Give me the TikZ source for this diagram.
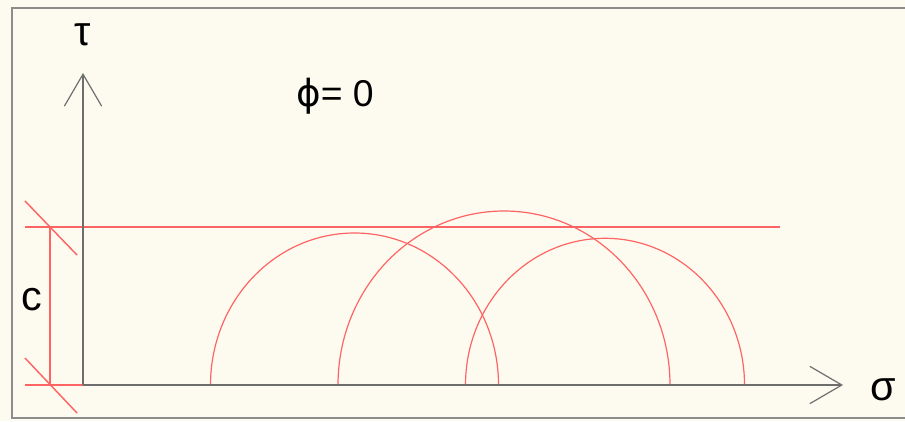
\documentclass[tikz,border=0pt]{standalone}
\usepackage{xcolor}
\usepackage{fontspec}
\setmainfont{Liberation Sans}
\newfontfamily\symfont{DejaVu Sans}
\usepackage{tikz}
\usetikzlibrary{arrows.meta}
\definecolor{paper}{RGB}{253,251,240}
\definecolor{framegray}{RGB}{140,140,140}
\definecolor{axisgray}{RGB}{110,110,110}
\definecolor{envred}{RGB}{255,100,100}
\tikzstyle{axis} = [draw=axisgray, line width=1.6pt,
                    -{Straight Barb[length=24pt,width=28pt,line width=0.9pt]}]
\tikzstyle{envelope} = [draw=envred, line width=1.1pt]
\tikzstyle{mohrarc} = [draw=envred, line width=0.9pt]
\tikzstyle{lbl} = [inner sep=0pt, font=\fontsize{28}{32}\selectfont]
\tikzstyle{biglbl} = [inner sep=0pt, font=\fontsize{31}{34}\selectfont]

\begin{document}
\begin{tikzpicture}[x=0.75pt, y=-0.75pt]
    \useasboundingbox (0,0) rectangle (905,421);
    \fill [paper] (0,0) rectangle (905,421);
    % frame
    \draw [framegray, line width=1.5pt] (915,8) -- (12,8) -- (12,418) -- (915,418);

    \coordinate (O) at (83,385);
    \coordinate (taupeak) at (83,73);
    \coordinate (sigpeak) at (843,385);
    \coordinate (ctop) at (50,227);
    \coordinate (cbot) at (50,385);
    \coordinate (envend) at (780,227);

    % cohesion limit and dimension
    \draw [envelope] (25,227) -- (envend);
    \draw [envelope] (25,385) -- (O);
    \draw [envelope] (ctop) -- (cbot);
    \draw [envelope] ([shift={(-25,-26)}]ctop) -- ([shift={(27,28)}]ctop);
    \draw [envelope] ([shift={(-25,-27)}]cbot) -- ([shift={(27,28)}]cbot);

    % Mohr circles
    \draw [mohrarc] (210.5,385) arc [start angle=180, end angle=360, x radius=144, y radius=152];
    \draw [mohrarc] (338,385) arc [start angle=180, end angle=360, x radius=166, y radius=174];
    \draw [mohrarc] (465.5,385) arc [start angle=180, end angle=360, x radius=139.5, y radius=146.7];

    % axes
    \draw [axis] (O) -- (taupeak);
    \draw [axis] (O) -- (sigpeak);

    \node [biglbl] (tau) at (83,35) {τ};
    \node [biglbl] (sigma) at (883,390) {σ};
    \node [lbl] (phi) at (335,96) {{\symfont ϕ}= 0};
    \node [biglbl] (coh) at (32,300) {c};
\end{tikzpicture}
\end{document}
